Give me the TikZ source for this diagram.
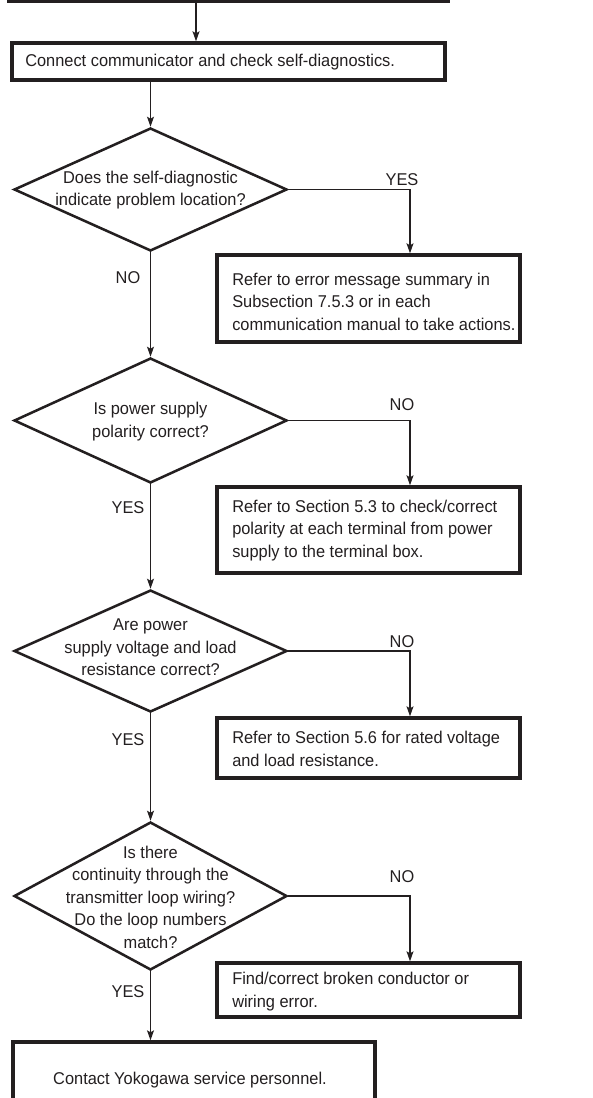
\documentclass[tikz,border=0pt]{standalone}
\usepackage{fontspec}
\setmainfont[FakeStretch=0.96]{Liberation Sans}
\usetikzlibrary{shapes.geometric,arrows.meta,calc}
\definecolor{ink}{HTML}{231F20}
\begin{document}
\begin{tikzpicture}[x=0.75pt,y=-0.75pt,
  every node/.style={font=\fontsize{12.8pt}{16.9pt}\selectfont, text=ink},
  boxa/.style={draw=ink, line width=2.5pt, rectangle, inner sep=0pt},
  rbox/.style={boxa, minimum width=227.25pt},
  dia/.style={draw=ink, line width=1.9pt, diamond, inner sep=0pt, minimum width=204.75pt},
  txt/.style={align=left, inner sep=0pt, anchor=west},
  ctxt/.style={align=center, inner sep=0pt},
  arr/.style={draw=ink, line width=0.9pt, -{Stealth[length=7.5pt,width=5.2pt,inset=1.5pt]}},
  lbl/.style={inner sep=0pt}
]
\useasboundingbox (0,0) rectangle (592,1098);

% top (cut off) box
\node[boxa, minimum width=329.25pt, minimum height=23.25pt] (top) at (228.5,-14.5) {};

% box 1
\node[boxa, minimum width=324.75pt, minimum height=27.75pt] (b1) at (228.5,61.5) {};
\node[txt] (tb1) at (25,62) {Connect communicator and check self-diagnostics.};

% diamond 1
\node[dia, minimum height=92.25pt] (d1) at (150.5,189.5) {};
\node[ctxt] (t1) at (150.5,190) {Does the self-diagnostic\\indicate problem location?};
\node[rbox, minimum height=65.25pt] (b2) at (368.5,298.5) {};
\node[txt] (tb2) at (232,301.5) {Refer to error message summary in\\Subsection 7.5.3 or in each\\communication manual to take actions.};

% diamond 2
\node[dia, minimum height=93.75pt] (d2) at (150.5,420.5) {};
\node[ctxt] (t2) at (150.5,421.5) {Is power supply\\polarity correct?};
\node[rbox, minimum height=64.5pt] (b3) at (368.5,530) {};
\node[txt] (tb3) at (232,530.5) {Refer to Section 5.3 to check/correct\\polarity at each terminal from power\\supply to the terminal box.};

% diamond 3
\node[dia, minimum height=91.5pt] (d3) at (150.5,651) {};
\node[ctxt] (t3) at (150.5,647.5) {Are power\\supply voltage and load\\resistance correct?};
\node[rbox, minimum height=45pt] (b4) at (368.5,748) {};
\node[txt] (tb4) at (232,749) {Refer to Section 5.6 for rated voltage\\and load resistance.};

% diamond 4
\node[dia, minimum height=111pt] (d4) at (150.5,896) {};
\node[ctxt] (t4) at (150.5,897) {Is there\\continuity through the\\transmitter loop wiring?\\Do the loop numbers\\match?};
\node[rbox, minimum height=40.5pt] (b5) at (368.5,990) {};
\node[txt] (tb5) at (232,991.5) {Find/correct broken conductor or\\wiring error.};

% final box
\node[boxa, minimum width=271.5pt, minimum height=57pt] (b6) at (194,1080) {};
\node[ctxt] (tb6) at (190,1080) {Contact Yokogawa service personnel.};

% labels
\node[lbl] (y1) at (402,180) {YES};
\node[lbl] (n1) at (128,278) {NO};
\node[lbl] (n2) at (402,405) {NO};
\node[lbl] (y2) at (128,508) {YES};
\node[lbl] (n3) at (402,642) {NO};
\node[lbl] (y3) at (128,740) {YES};
\node[lbl] (n4) at (402,877) {NO};
\node[lbl] (y4) at (128,992) {YES};

% connectors
\draw[arr] ([xshift=-24.375pt]top.south) -- ([xshift=-24.375pt]b1.north);
\draw[arr] (b1.south -| d1.north) -- (d1.north);
\draw[arr] (d1.east) -| ([xshift=31.125pt]b2.north);
\draw[arr] (d1.south) -- (d2.north);
\draw[arr] (d2.east) -| ([xshift=31.125pt]b3.north);
\draw[arr] (d2.south) -- (d3.north);
\draw[arr] (d3.east) -| ([xshift=31.125pt]b4.north);
\draw[arr] (d3.south) -- (d4.north);
\draw[arr] (d4.east) -| ([xshift=31.125pt]b5.north);
\draw[arr] (d4.south) -- (b6.north -| d4.south);
\end{tikzpicture}
\end{document}
